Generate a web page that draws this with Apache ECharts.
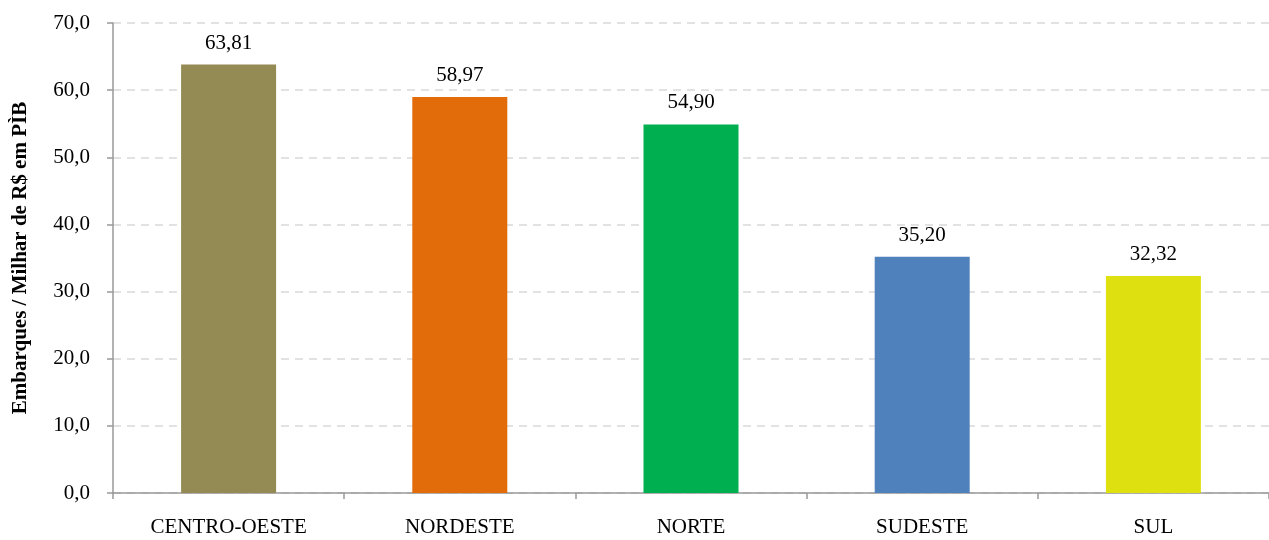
<!DOCTYPE html>
<html><head><meta charset="utf-8">
<script src="https://cdn.jsdelivr.net/npm/echarts@6/dist/echarts.min.js"></script>
<style>html,body{margin:0;padding:0;background:#fff}#c{width:1269px;height:540px}</style>
</head><body><div id="c"></div>
<script>
const categories = ['CENTRO-OESTE','NORDESTE','NORTE','SUDESTE','SUL'];
const values = [63.81, 58.97, 54.90, 35.20, 32.32];
const barColors = ['#948A54','#E36C0A','#00B050','#4F81BD','#DFE00F'];
const yAxisTitle = 'Embarques / Milhar de R$ em PÌB';
const font = '"Liberation Serif","Times New Roman",serif';
const chart = echarts.init(document.getElementById('c'));
chart.setOption({
  animation: false,
  grid: {left: 113, top: 23, width: 1163, height: 470},
  xAxis: {
    type: 'category', data: categories,
    axisLine: {lineStyle: {color: '#999', width: 1.5}},
    axisTick: {show: true, length: 6, lineStyle: {color: '#999', width: 1.5}},
    axisLabel: {color: '#000', fontFamily: font, fontSize: 21, margin: 24}
  },
  yAxis: {
    type: 'value', min: 0, max: 70, interval: 10,
    name: yAxisTitle, nameLocation: 'middle', nameRotate: 90, nameGap: 82,
    nameTextStyle: {color: '#000', fontFamily: font, fontSize: 21, fontWeight: 'bold'},
    axisLine: {show: true, lineStyle: {color: '#999', width: 1.5}},
    axisTick: {show: true, length: 6, lineStyle: {color: '#999', width: 1.5}},
    axisLabel: {color: '#000', fontFamily: font, fontSize: 21, margin: 23,
      formatter: v => v.toFixed(1).replace('.', ',')},
    splitLine: {lineStyle: {color: '#d9d9d9', type: [8, 6], width: 1.5}}
  },
  series: [{
    type: 'bar', barWidth: 95,
    data: values.map((v, i) => ({value: v, itemStyle: {color: barColors[i]}})),
    label: {show: true, position: 'top', distance: 11, color: '#000', fontFamily: font, fontSize: 21,
      formatter: p => p.value.toFixed(2).replace('.', ',')}
  }]
});
</script></body></html>
